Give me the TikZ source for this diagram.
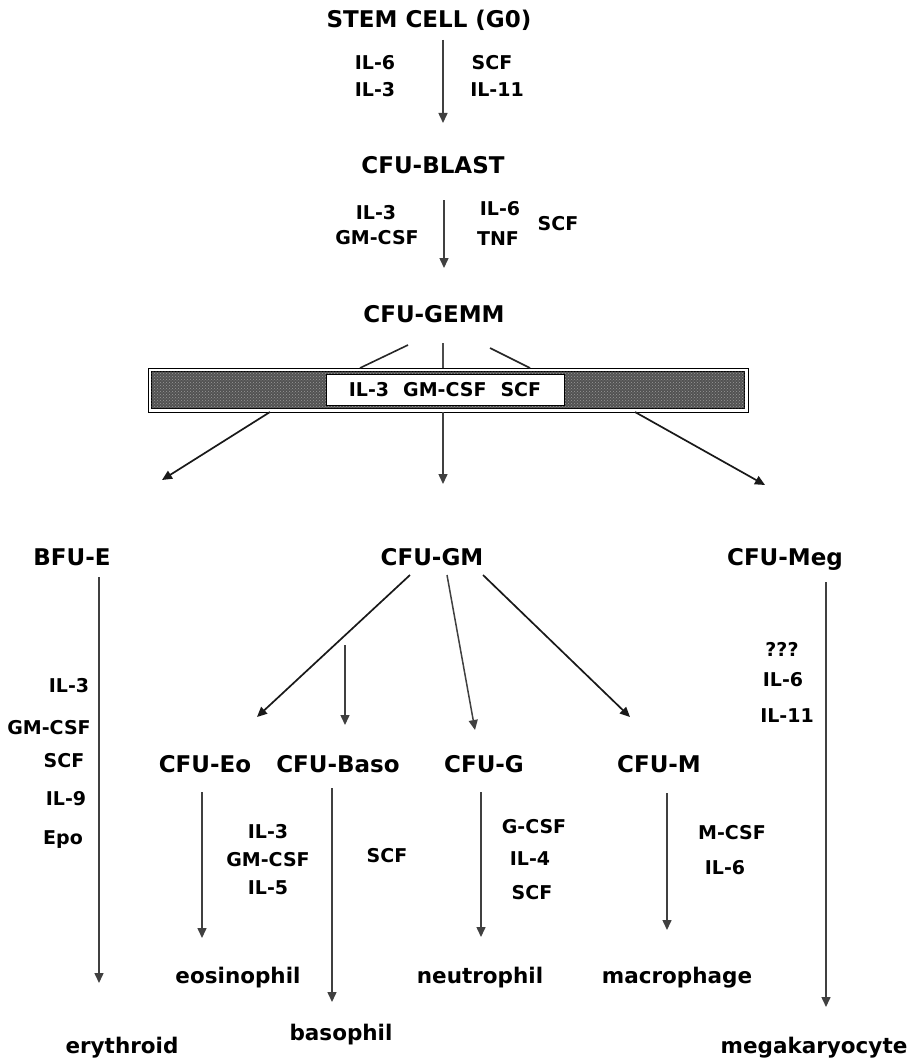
\documentclass[tikz,border=0pt]{standalone}
\usepackage{fontspec}
\setmainfont{DejaVu Sans}
\usetikzlibrary{arrows.meta,patterns}
\begin{document}
\begin{tikzpicture}[x=1pt,y=-1pt,
  big/.style={font=\fontsize{23}{27}\selectfont\bfseries, inner sep=0pt, anchor=base},
  sm/.style={font=\fontsize{19}{22}\selectfont\bfseries, inner sep=0pt, anchor=base},
  cell/.style={font=\fontsize{21.5}{25}\selectfont\bfseries, inner sep=0pt, anchor=base},
  arr/.style={draw=black!75, line width=1.5pt, -{Triangle[length=10pt,width=9pt]}},
  darr/.style={arr, draw=black!90, line width=1.7pt},
  ln/.style={draw=black!85, line width=1.6pt},
]
\useasboundingbox (0,0) rectangle (915,1062);

% ---- top ----
\node[big] (stem) at (429,28) {STEM CELL (G0)};
\node[sm] (il6a) at (375,70) {IL-6};
\node[sm] (scfa) at (492,70) {SCF};
\node[sm] (il3a) at (375,97) {IL-3};
\node[sm] (il11a) at (497,97) {IL-11};
\coordinate (a1s) at (443,40);
\coordinate (a1e) at (443,123);
\draw[arr] (a1s) -- (a1e);

\node[big] (blast) at (433,173) {CFU-BLAST};
\node[sm] (il3b) at (376,219) {IL-3};
\node[sm] (gmb) at (377,244) {GM-CSF};
\node[sm] (il6b) at (500,215) {IL-6};
\node[sm] (tnfb) at (498,245) {TNF};
\node[sm] (scfb) at (558,230) {SCF};
\coordinate (a2s) at (444,200);
\coordinate (a2e) at (444,268);
\draw[arr] (a2s) -- (a2e);

\node[big] (gemm) at (434,322) {CFU-GEMM};

% ---- bar ----
\draw[line width=1pt] (148,368) rectangle (748,412);
\draw[line width=0.8pt, fill=black!68] (151.5,371.5) rectangle (744.5,408.5);
\fill[pattern=crosshatch dots, pattern color=black!40] (151.5,371.5) rectangle (744.5,408.5);
\node[sm, anchor=center, draw, line width=1pt, fill=white, minimum width=238pt, minimum height=31pt]
  (bar) at (445,390) {IL-3\hspace{14pt}GM-CSF\hspace{14pt}SCF};

\coordinate (g1s) at (408,345);
\coordinate (g1e) at (360,368);
\coordinate (g2s) at (443,343);
\coordinate (g2e) at (443,368);
\coordinate (g3s) at (490,348);
\coordinate (g3e) at (530,368);
\draw[ln] (g1s) -- (g1e);
\draw[ln, draw=black!70, line width=1.2pt] (g2s) -- (g2e);
\draw[ln] (g3s) -- (g3e);

\coordinate (b1s) at (270,412);
\coordinate (b1e) at (162,480);
\coordinate (b2s) at (443,412);
\coordinate (b2e) at (443,484);
\coordinate (b3s) at (635,412);
\coordinate (b3e) at (765,485);
\draw[darr] (b1s) -- (b1e);
\draw[arr] (b2s) -- (b2e);
\draw[darr] (b3s) -- (b3e);

% ---- middle row ----
\node[big] (bfue) at (72,565) {BFU-E};
\node[big] (cfugm) at (432,565) {CFU-GM};
\node[big] (meg) at (785,565) {CFU-Meg};

% BFU-E branch
\coordinate (es) at (99,577);
\coordinate (ee) at (99,983);
\draw[arr] (es) -- (ee);
\node[sm] (il3c) at (69,692) {IL-3};
\node[sm] (gmc) at (49,734) {GM-CSF};
\node[sm] (scfc) at (64,767) {SCF};
\node[sm] (il9c) at (66,805) {IL-9};
\node[sm] (epoc) at (63,844) {Epo};
\node[cell] (ery) at (122,1053) {erythroid};

% Meg branch
\coordinate (ms) at (826,582);
\coordinate (me) at (826,1007);
\draw[arr] (ms) -- (me);
\node[sm] (qq) at (782,656) {???};
\node[sm] (il6m) at (783,686) {IL-6};
\node[sm] (il11m) at (787,722) {IL-11};
\node[cell] (mega) at (814,1053) {megakaryocyte};

% CFU-GM branches
\coordinate (c1s) at (410,575);
\coordinate (c1e) at (257,717);
\coordinate (c2s) at (345,645);
\coordinate (c2e) at (345,725);
\coordinate (c3s) at (447,575);
\coordinate (c3e) at (475,730);
\coordinate (c4s) at (483,575);
\coordinate (c4e) at (630,717);
\draw[darr] (c1s) -- (c1e);
\draw[arr] (c2s) -- (c2e);
\draw[arr] (c3s) -- (c3e);
\draw[darr] (c4s) -- (c4e);

\node[big] (eo) at (205,772) {CFU-Eo};
\node[big] (baso) at (338,772) {CFU-Baso};
\node[big] (cfug) at (484,772) {CFU-G};
\node[big] (cfum) at (659,772) {CFU-M};

% lower arrows
\coordinate (d1s) at (202,792);
\coordinate (d1e) at (202,938);
\coordinate (d2s) at (332,788);
\coordinate (d2e) at (332,1002);
\coordinate (d3s) at (481,792);
\coordinate (d3e) at (481,937);
\coordinate (d4s) at (667,793);
\coordinate (d4e) at (667,930);
\draw[arr] (d1s) -- (d1e);
\draw[arr] (d2s) -- (d2e);
\draw[arr] (d3s) -- (d3e);
\draw[arr] (d4s) -- (d4e);

\node[sm] (il3e) at (268,838) {IL-3};
\node[sm] (gme) at (268,866) {GM-CSF};
\node[sm] (il5e) at (268,894) {IL-5};
\node[sm] (scfbaso) at (387,862) {SCF};
\node[sm] (gcsf) at (534,833) {G-CSF};
\node[sm] (il4) at (530,865) {IL-4};
\node[sm] (scfg) at (532,899) {SCF};
\node[sm] (mcsf) at (732,839) {M-CSF};
\node[sm] (il6mm) at (725,874) {IL-6};

\node[cell] (eos) at (238,983) {eosinophil};
\node[cell] (bas) at (341,1040) {basophil};
\node[cell] (neu) at (480,983) {neutrophil};
\node[cell] (mac) at (677,983) {macrophage};
\end{tikzpicture}
\end{document}
